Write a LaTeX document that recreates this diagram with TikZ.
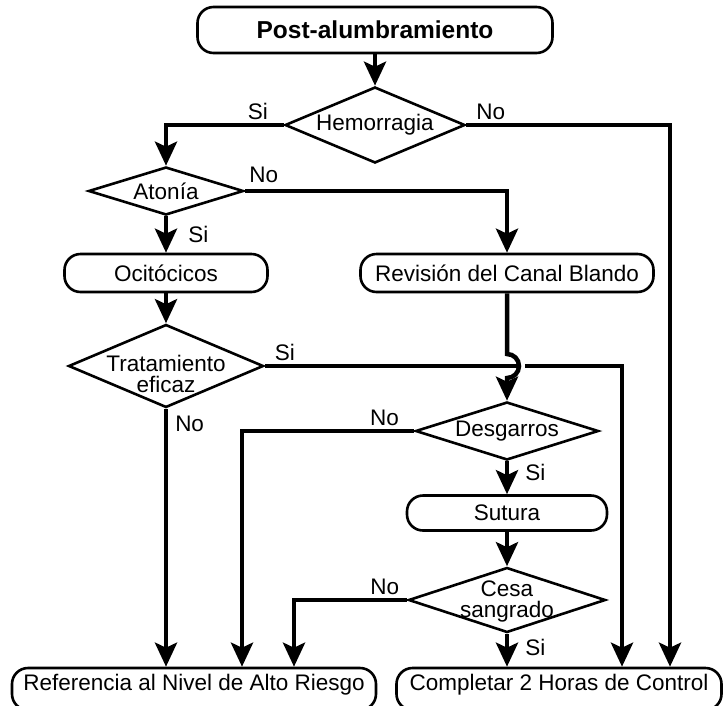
\documentclass[tikz,border=0pt]{standalone}
\usepackage{fontspec}
\setmainfont{Liberation Sans}
\usetikzlibrary{shapes.geometric,arrows.meta}
\tikzset{
  base/.style={draw, line width=2.6pt, inner sep=0pt},
  terminal/.style={base, rectangle, rounded corners=16pt, minimum height=38pt, text depth=0pt},
  final/.style={terminal, minimum height=42pt, text depth=14pt},
  decision/.style={base, diamond},
  twoline/.style={align=center, font=\fontsize{22.5}{21}\selectfont},
  flow/.style={line width=4.5pt, -{Stealth[length=24pt,width=22pt,inset=5pt]}},
  lbl/.style={inner sep=3pt},
}
\begin{document}
\begin{tikzpicture}[x=1pt, y=1pt, font=\fontsize{22.5}{21}\selectfont]
  \useasboundingbox (0,0) rectangle (723,-705);
  % Nodes
  \node[terminal, minimum width=355pt, minimum height=46pt, font=\fontsize{24.5}{28}\selectfont\bfseries] (post) at (375,-30) {Post-alumbramiento};
  \node[decision, minimum width=180pt, minimum height=76pt, label=center:Hemorragia] (hem) at (375,-125) {};
  \node[decision, minimum width=155pt, minimum height=48pt, label=center:Atonía] (ato) at (166,-191) {};
  \node[terminal, minimum width=203pt] (oci) at (166,-273) {Ocitócicos};
  \node[terminal, minimum width=293pt] (rev) at (507,-273) {Revisión del Canal Blando};
  \node[decision, minimum width=195pt, minimum height=83pt, label={[twoline, yshift=-8pt]center:Tratamiento\\eficaz}] (tra) at (166,-366) {};
  \node[decision, minimum width=183pt, minimum height=58pt, label=center:Desgarros] (des) at (507,-431) {};
  \node[terminal, minimum width=200pt, minimum height=35pt] (sut) at (507,-513) {Sutura};
  \node[decision, minimum width=197pt, minimum height=65pt, label={[twoline, yshift=-1.5pt]center:Cesa\\sangrado}] (ces) at (507,-600) {};
  \node[final, minimum width=364pt] (ref) at (194,-689) {Referencia al Nivel de Alto Riesgo};
  \node[final, minimum width=325pt] (com) at (559,-689) {Completar 2 Horas de Control};
  \coordinate (jmp) at (rev.south |- tra.east);
  % Connectors
  \draw[flow] (post.south) -- (hem.north);
  \draw[flow] (hem.west) -| node[lbl, above, pos=0.11] {Si} (ato.north);
  \draw[flow] (hem.east) -| node[lbl, above, pos=0.06] {No} ([xshift=111pt]com.north);
  \draw[flow] (ato.east) -| node[lbl, above, yshift=3pt, pos=0.036] {No} (rev.north);
  \draw[flow] (ato.south) -- node[lbl, right=17pt, midway] {Si} (oci.north);
  \draw[flow] (oci.south) -- (tra.north);
  \draw[flow] (tra.east) -- node[lbl, above, pos=0.08] {Si} ([xshift=10pt]jmp)
    ([xshift=18pt]jmp) -| ([xshift=63pt]com.north);
  \draw[flow] (rev.south) -- ([yshift=12pt]jmp) arc[start angle=90, end angle=-90, radius=12pt] -- (des.north);
  \draw[flow] (tra.south) -- node[lbl, right=4pt, pos=0.06] {No} (tra.south |- ref.north);
  \draw[flow] (des.west) -| node[lbl, above, pos=0.086] {No} ([xshift=48pt]ref.north);
  \draw[flow] (des.south) -- node[lbl, right=13pt, pos=0.35] {Si} (sut.north);
  \draw[flow] (sut.south) -- (ces.north);
  \draw[flow] (ces.west) -| node[lbl, above, pos=0.099] {No} ([xshift=100pt]ref.north);
  \draw[flow] (ces.south) -- node[lbl, right=13pt, pos=0.4] {Si} (ces.south |- com.north);
\end{tikzpicture}
\end{document}
